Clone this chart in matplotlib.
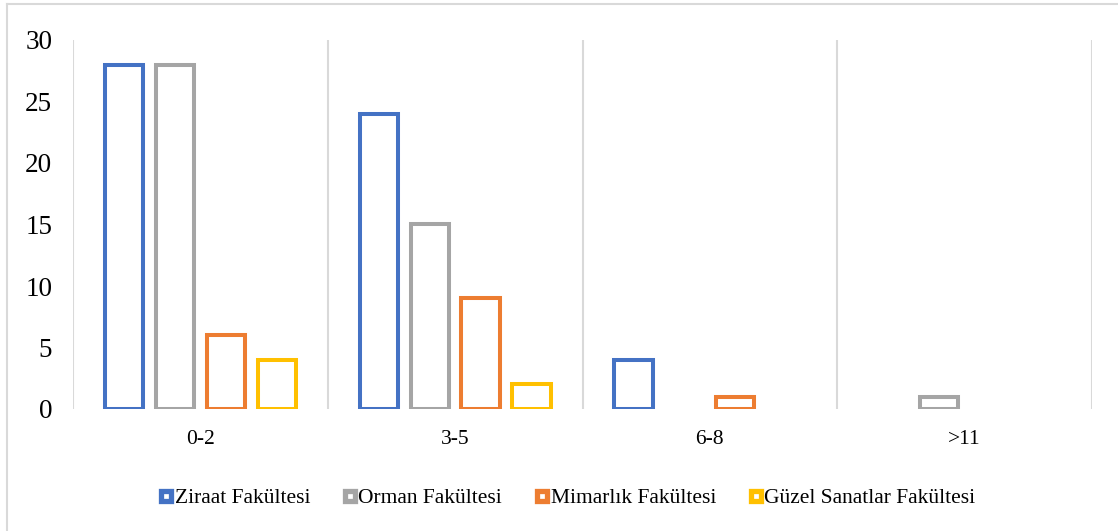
import numpy as np
import matplotlib.pyplot as plt
from matplotlib.lines import Line2D

plt.rcParams['font.family'] = ['Liberation Serif', 'DejaVu Serif']

categories = ["0-2", "3-5", "6-8", ">11"]
series_names = ["Ziraat Fakültesi", "Orman Fakültesi", "Mimarlık Fakültesi", "Güzel Sanatlar Fakültesi"]
ziraat = [28, 24, 4, 0]
orman = [28, 15, 0, 1]
mimarlik = [6, 9, 1, 0]
guzel = [4, 2, 0, 0]
colors = ["#4472C4", "#A5A5A5", "#ED7D31", "#FFC000"]

W, H = 1118, 531
fig = plt.figure(figsize=(W / 100, H / 100), dpi=100)
ax = fig.add_axes([73 / W, (H - 409) / H, (1092 - 73) / W, (409 - 40) / H])

x = np.arange(len(categories))
offsets = [-0.3, -0.1, 0.1, 0.3]
width = 0.15
lw = 2.9
for vals, off, c, name in zip([ziraat, orman, mimarlik, guzel], offsets, colors, series_names):
    v = np.array(vals, dtype=float)
    mask = v > 0
    ax.bar(x[mask] + off, v[mask], width=width, facecolor="white", edgecolor=c,
           linewidth=lw, label=name, zorder=3)

ax.set_xlim(-0.5, len(categories) - 0.5)
ax.set_ylim(0, 30)
ax.set_yticks(range(0, 31, 5))
ax.set_xticks(x)
ax.set_xticklabels(categories, fontsize=15.5)
ax.tick_params(axis='y', labelsize=19.5, length=0, pad=15)
ax.tick_params(axis='x', length=0, pad=15)
for s in ax.spines.values():
    s.set_visible(False)
for b in np.arange(-0.5, len(categories), 1.0):
    ax.axvline(b, color="#D9D9D9", linewidth=1.5, zorder=1)

handles = [Line2D([], [], linestyle="none", marker="s", markersize=7.6, markeredgewidth=3.8,
                  markerfacecolor="white", markeredgecolor=c) for c in colors]
fig.legend(handles, series_names, loc="center", bbox_to_anchor=(567 / W, (H - 498) / H),
           ncol=4, frameon=False, fontsize=15.5, handlelength=0.7,
           handletextpad=0.05, columnspacing=1.5, borderpad=0, borderaxespad=0)

# chart area border
fig.add_artist(Line2D([7 / W, 1], [1 - 4 / H, 1 - 4 / H], color="#D9D9D9", linewidth=1.5))
fig.add_artist(Line2D([7 / W, 7 / W], [0, 1 - 4 / H], color="#D9D9D9", linewidth=1.5))

fig.savefig("out.png", dpi=100)
